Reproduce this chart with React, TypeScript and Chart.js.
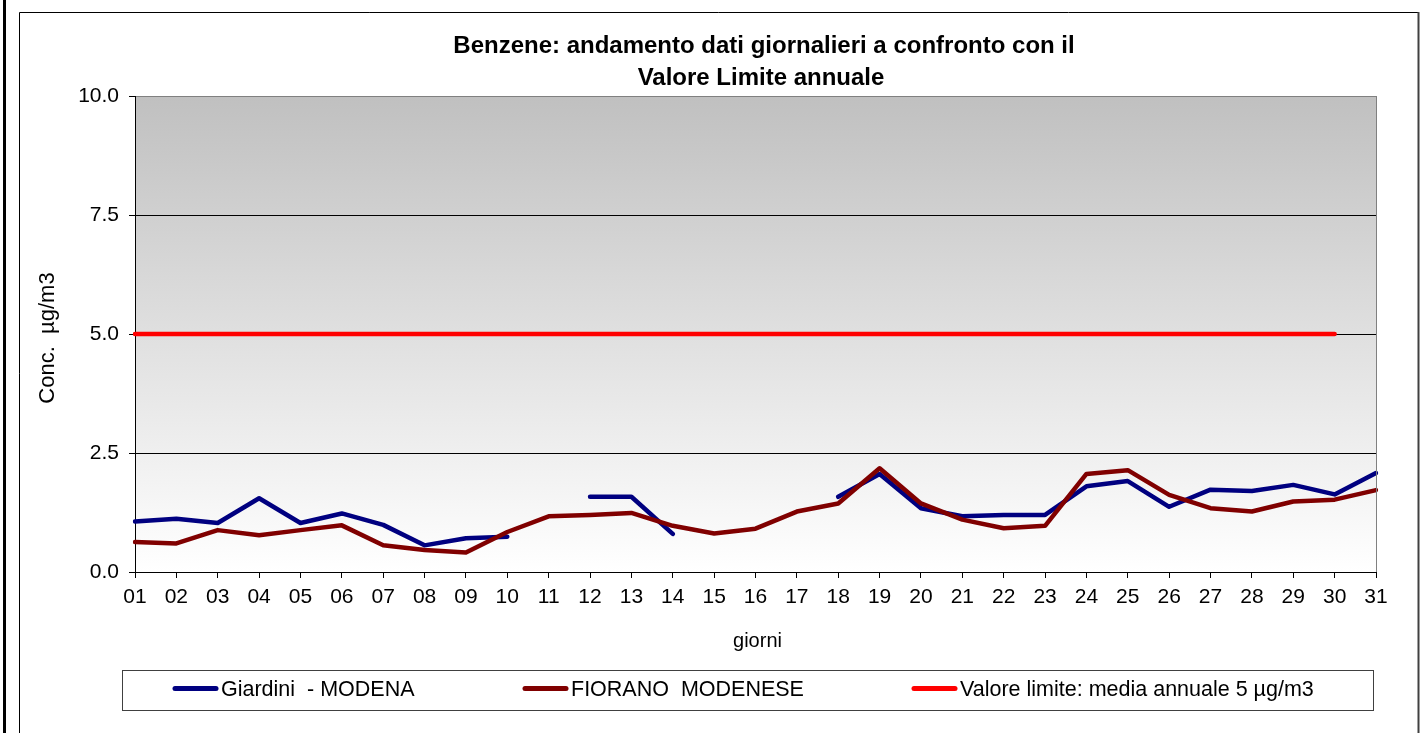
import React, { useEffect, useRef } from "react";
import { Chart, registerables } from "chart.js";

Chart.register(...registerables);

const DAYS = [
  "01", "02", "03", "04", "05", "06", "07", "08", "09", "10",
  "11", "12", "13", "14", "15", "16", "17", "18", "19", "20",
  "21", "22", "23", "24", "25", "26", "27", "28", "29", "30", "31",
];

const GIARDINI: (number | null)[] = [
  1.06, 1.12, 1.03, 1.55, 1.03, 1.23, 0.99, 0.56, 0.71, 0.74,
  null, 1.58, 1.58, 0.8, null, null, null, 1.58, 2.06, 1.34,
  1.17, 1.2, 1.2, 1.8, 1.91, 1.37, 1.73, 1.7, 1.83, 1.63, 2.08,
];

const FIORANO: (number | null)[] = [
  0.63, 0.6, 0.88, 0.77, 0.88, 0.98, 0.56, 0.46, 0.41, 0.84,
  1.17, 1.2, 1.24, 0.97, 0.81, 0.91, 1.27, 1.44, 2.18, 1.44,
  1.1, 0.92, 0.97, 2.06, 2.14, 1.62, 1.34, 1.27, 1.48, 1.52, 1.72,
];

const LIMITE: (number | null)[] = [
  5, 5, 5, 5, 5, 5, 5, 5, 5, 5,
  5, 5, 5, 5, 5, 5, 5, 5, 5, 5,
  5, 5, 5, 5, 5, 5, 5, 5, 5, 5, null,
];

const Y_TICKS = [0, 2.5, 5, 7.5, 10];

const SERIES_NAMES = [
  "Giardini  - MODENA",
  "FIORANO  MODENESE",
  "Valore limite: media annuale 5 µg/m3",
];

const TITLE_LINES = [
  "Benzene: andamento dati giornalieri a confronto con il",
  "Valore Limite annuale",
];
const X_TITLE = "giorni";
const Y_TITLE = "Conc.  µg/m3";

const FONT_FAMILY = "'Liberation Sans', Arial, sans-serif";

const decorPlugin = {
  id: "decor",
  beforeDraw(chart: any) {
    const { ctx, chartArea: a } = chart;
    ctx.save();
    ctx.fillStyle = "#ffffff";
    ctx.fillRect(0, 0, chart.width, chart.height);
    // outer left frame line
    ctx.fillStyle = "#000000";
    ctx.fillRect(3, 0, 3, chart.height);
    // inner chart box
    ctx.strokeStyle = "#000000";
    ctx.lineWidth = 1;
    ctx.beginPath();
    ctx.moveTo(19.5, chart.height + 2);
    ctx.lineTo(19.5, 12.5);
    ctx.lineTo(1418, 12.5);
    ctx.stroke();
    ctx.strokeStyle = "#404040";
    ctx.lineWidth = 2;
    ctx.beginPath();
    ctx.moveTo(1418.5, 12);
    ctx.lineTo(1418.5, chart.height + 2);
    ctx.stroke();
    // plot background gradient
    const g = ctx.createLinearGradient(0, a.top, 0, a.bottom);
    g.addColorStop(0, "#c0c0c0");
    g.addColorStop(1, "#ffffff");
    ctx.fillStyle = g;
    ctx.fillRect(a.left, a.top, a.right - a.left, a.bottom - a.top);
    ctx.restore();
  },
  afterDraw(chart: any) {
    const { ctx, chartArea: a } = chart;
    ctx.save();
    // right plot border
    ctx.strokeStyle = "#808080";
    ctx.lineWidth = 1;
    ctx.beginPath();
    ctx.moveTo(a.right + 0.5, a.top);
    ctx.lineTo(a.right + 0.5, a.bottom);
    ctx.stroke();

    // title
    ctx.fillStyle = "#000000";
    ctx.textAlign = "center";
    ctx.textBaseline = "alphabetic";
    ctx.font = `bold 24px ${FONT_FAMILY}`;
    ctx.fillText(TITLE_LINES[0], 764, 53);
    ctx.fillText(TITLE_LINES[1], 761, 85);

    // x axis title
    ctx.font = `20px ${FONT_FAMILY}`;
    ctx.textBaseline = "middle";
    ctx.fillText(X_TITLE, (a.left + a.right) / 2 + 2, 641);

    // y axis title
    ctx.save();
    ctx.font = `22px ${FONT_FAMILY}`;
    ctx.translate(48, (a.top + a.bottom) / 2 + 4);
    ctx.rotate(-Math.PI / 2);
    ctx.fillText(Y_TITLE, 0, 0);
    ctx.restore();

    // legend box
    ctx.strokeStyle = "#404040";
    ctx.lineWidth = 1;
    ctx.strokeRect(122.5, 670.5, 1251, 40);
    const itemX = [173, 523, 912];
    ctx.font = `21.5px ${FONT_FAMILY}`;
    ctx.textAlign = "left";
    ctx.textBaseline = "middle";
    chart.data.datasets.forEach((ds: any, i: number) => {
      const x = itemX[i];
      ctx.strokeStyle = ds.borderColor;
      ctx.lineWidth = 5;
      ctx.lineCap = "round";
      ctx.beginPath();
      ctx.moveTo(x + 2, 688.5);
      ctx.lineTo(x + 43, 688.5);
      ctx.stroke();
      ctx.fillStyle = "#000000";
      ctx.fillText(ds.label, x + 48, 690);
    });
    ctx.restore();
  },
};

export default function App() {
  const ref = useRef<HTMLCanvasElement | null>(null);

  useEffect(() => {
    document.body.style.margin = "0";
    const canvas = ref.current;
    if (!canvas) return;
    const tickFont = { family: FONT_FAMILY, size: 21 };
    const chart = new Chart(canvas, {
      type: "line",
      data: {
        labels: DAYS,
        datasets: [
          {
            label: SERIES_NAMES[0],
            data: GIARDINI,
            borderColor: "#000080",
            backgroundColor: "#000080",
            borderWidth: 4.5,
            spanGaps: false,
            order: 3,
          },
          {
            label: SERIES_NAMES[1],
            data: FIORANO,
            borderColor: "#800000",
            backgroundColor: "#800000",
            borderWidth: 4.5,
            spanGaps: false,
            order: 2,
          },
          {
            label: SERIES_NAMES[2],
            data: LIMITE,
            borderColor: "#ff0000",
            backgroundColor: "#ff0000",
            borderWidth: 4.5,
            spanGaps: false,
            order: 1,
          },
        ],
      },
      options: {
        responsive: false,
        animation: false,
        devicePixelRatio: 1,
        layout: { padding: { top: 96, right: 49, left: 0, bottom: 0 } },
        elements: {
          point: { radius: 0, hoverRadius: 0 },
          line: { tension: 0, borderCapStyle: "round", borderJoinStyle: "round" },
        },
        plugins: {
          legend: { display: false },
          title: { display: false },
          tooltip: { enabled: false },
        },
        events: [],
        scales: {
          x: {
            type: "category",
            offset: false,
            grid: {
              drawOnChartArea: false,
              drawTicks: true,
              tickLength: 6,
              color: "#000000",
            },
            border: { color: "#000000", width: 1 },
            ticks: {
              font: tickFont,
              color: "#000000",
              padding: 7,
              autoSkip: false,
              maxRotation: 0,
              minRotation: 0,
            },
            afterFit: (s: any) => {
              s.height = 161;
            },
          },
          y: {
            min: 0,
            max: 10,
            afterBuildTicks: (s: any) => {
              s.ticks = Y_TICKS.map((v) => ({ value: v }));
            },
            ticks: {
              font: tickFont,
              color: "#000000",
              padding: 10,
              callback: (v: any) => Number(v).toFixed(1),
            },
            grid: {
              color: (c: any) => (c.tick && c.tick.value === 10 ? "#808080" : "#000000"),
              tickColor: "#000000",
              tickLength: 6,
            },
            border: { color: "#000000", width: 1 },
            afterFit: (s: any) => {
              s.width = 135;
            },
          },
        },
      },
      plugins: [decorPlugin],
    } as any);
    return () => chart.destroy();
  }, []);

  return (
    <div style={{ width: 1425, height: 733 }}>
      <canvas ref={ref} width={1425} height={733} style={{ display: "block" }} />
    </div>
  );
}
